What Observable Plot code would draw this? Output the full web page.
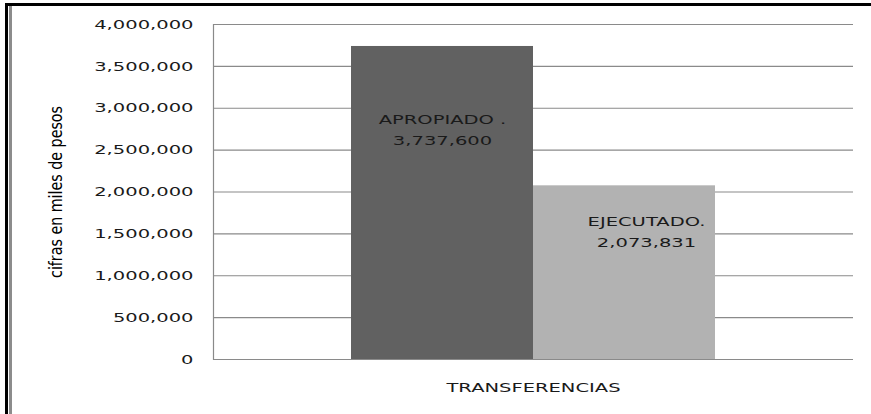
<!DOCTYPE html>
<html><head><meta charset="utf-8">
<script src="https://cdn.jsdelivr.net/npm/d3@7"></script>
<script src="https://cdn.jsdelivr.net/npm/@observablehq/plot@0.6"></script>
<style>
body{margin:0;background:#fff;}
#wrap{position:relative;width:871px;height:414px;overflow:hidden;background:#fff;}
#wrap svg{position:absolute;left:0;top:0;}
.b{position:absolute;}
</style></head><body>
<div id="wrap"></div>
<script>
const categories = ["TRANSFERENCIAS"];
const series = ["APROPIADO", "EJECUTADO"];
const seriesLabels = ["APROPIADO .", "EJECUTADO."];
const values = [3737600, 2073831];
const yTicks = [0, 500000, 1000000, 1500000, 2000000, 2500000, 3000000, 3500000, 4000000];
const yLabel = "cifras en miles de pesos";
const colors = ["#616161", "#b2b2b2"];

const fmt = d3.format(",");
const data = series.map((s, i) => ({
  category: categories[0],
  series: s,
  value: values[i],
  label: seriesLabels[i] + "\n" + fmt(values[i])
}));

const chart = Plot.plot({
  width: 871, height: 414,
  marginLeft: 213, marginRight: 18, marginTop: 24, marginBottom: 55,
  style: {fontFamily: "'DejaVu Sans', sans-serif", fontSize: "13px", color: "#1a1a1a", background: "transparent"},
  fx: {domain: categories, padding: 0, label: null},
  x: {domain: series, paddingInner: 0, paddingOuter: 0.749, axis: null},
  y: {domain: [0, 4000000], label: null},
  color: {domain: series, range: colors},
  marks: [
    Plot.ruleY(yTicks, {stroke: "#8a8a8a", strokeWidth: 1.2}),
    Plot.frame({anchor: "left", stroke: "#8a8a8a", strokeWidth: 1.2}),
    Plot.barY(data, {fx: "category", x: "series", y: "value", fill: "series"}),
    Plot.text(data.filter(d => d.series === series[0]), {fx: "category", x: "series", y: "value", text: "label", dy: 81, lineHeight: 1.6, fill: "#1a1a1a"}),
    Plot.text(data.filter(d => d.series === series[1]), {fx: "category", x: "series", y: "value", text: "label", dy: 44, dx: 22, lineHeight: 1.6, fill: "#1a1a1a"}),
    Plot.axisY({ticks: yTicks, tickFormat: fmt, tickSize: 0, tickPadding: 20, label: null}),
    Plot.axisFx({anchor: "bottom", tickSize: 0, tickPadding: 23, label: null}),
    Plot.text([yLabel], {frameAnchor: "left", textAnchor: "middle", rotate: -90, dx: -157, text: d => d, fontFamily: "'DejaVu Sans Condensed', sans-serif", fontSize: 18, fill: "#000"})
  ]
});

const wrap = document.getElementById("wrap");
wrap.appendChild(chart);

// borders
[
  "left:5px;top:3px;width:866px;height:3px;background:#000",
  "left:5px;top:3px;width:3px;height:411px;background:#000",
  "left:9px;top:6px;width:3px;height:408px;background:#8c8c8c"
].forEach(s => { const d = document.createElement("div"); d.className = "b"; d.style.cssText = s; wrap.appendChild(d); });

// horizontal text is widened, the rotated axis title is condensed, as in the reference
const k = 1.5;
chart.querySelectorAll("text").forEach(t => {
  const isTitle = t.textContent === yLabel;
  const f = isTitle ? 0.88 : k;
  const spans = t.querySelectorAll("tspan");
  const els = spans.length ? Array.from(spans) : [t];
  els.forEach(el => {
    const L = el.getComputedTextLength();
    if (L > 0) { el.setAttribute("textLength", (L * f).toFixed(1)); el.setAttribute("lengthAdjust", "spacingAndGlyphs"); }
  });
});
</script>
</body></html>
